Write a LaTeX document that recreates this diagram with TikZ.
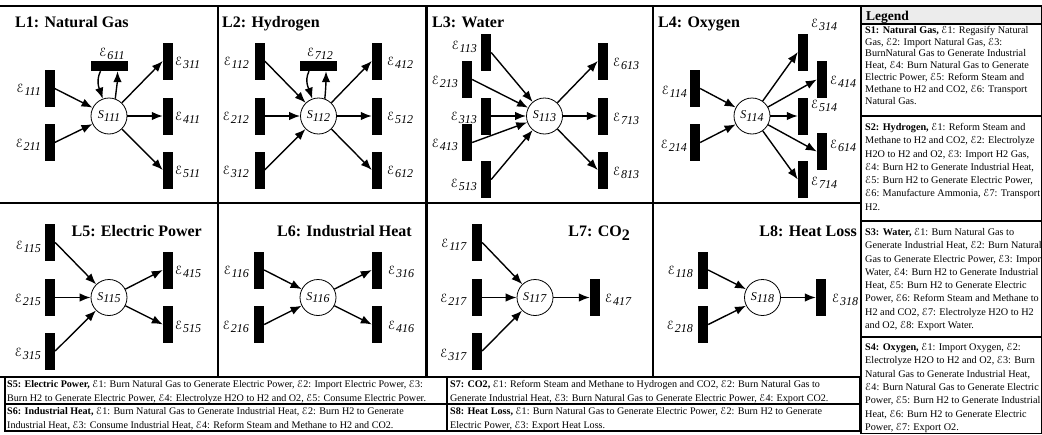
\documentclass[tikz,border=0pt]{standalone}
\usepackage{fontspec}
\setmainfont{Liberation Serif}
\usepackage[mathscr]{euscript}
\usetikzlibrary{arrows.meta}
\newcommand\Escr{\ensuremath{\mathscr{E}}}
\newcommand\El[1]{\Escr\kern0.6pt\raisebox{-3pt}{\textit{#1}}}
\newcommand\Sl[1]{\textit{S}\raisebox{-2.5pt}{\textit{#1}}}
\tikzset{
 vbar/.style={fill=black, inner sep=0pt, minimum width=10pt, minimum height=37pt},
 hbar/.style={fill=black, inner sep=0pt, minimum width=37pt, minimum height=10pt},
 snode/.style={circle, draw, line width=0.8pt, fill=white, minimum size=36pt, inner sep=0pt, font=\fontsize{12}{14}\selectfont},
 elbl/.style={inner sep=0pt, font=\fontsize{12}{14}\selectfont},
 arr/.style={line width=1.4pt, -{Latex[length=11pt,width=8.5pt]}},
 ttl/.style={inner sep=0pt, font=\fontsize{16}{18}\selectfont\bfseries},
 frame/.style={line width=2.5pt},
 ltxt/.style={inner sep=0pt, anchor=north west, align=left},
 btxt/.style={inner sep=0pt, anchor=north west, align=left, font=\fontsize{10.1}{13.5}\selectfont},
}
\begin{document}
\begin{tikzpicture}[x=1pt,y=-1pt]
\useasboundingbox (0,0) rectangle (1042,434);
% ---------- frames
\draw[frame] (0,6) -- (1042,6);
\draw[frame] (0,203) -- (861,203);
\draw[frame] (0,377) -- (861,377);
\draw[frame] (218,6) -- (218,377);
\draw[frame] (426.5,6) -- (426.5,377);
\draw[frame] (653,6) -- (653,377);
% ---------- L1
\node[ttl, anchor=base west] (t1) at (15,27) {L1: Natural Gas};
\node[snode] (s111) at (109,116) {\Sl{111}};
\node[vbar] (e111) at (49.5,88.5) {};
\node[vbar] (e211) at (49.5,142.5) {};
\node[vbar] (e311) at (168,61) {};
\node[vbar] (e411) at (168,116) {};
\node[vbar] (e511) at (168,170) {};
\node[hbar] (e611) at (109.5,66) {};
\node[elbl, anchor=east] (l111) at (41,90) {\El{111}};
\node[elbl, anchor=east] (l211) at (41,145) {\El{211}};
\node[elbl, anchor=west] (l311) at (175,63) {\El{311}};
\node[elbl, anchor=west] (l411) at (175,118) {\El{411}};
\node[elbl, anchor=west] (l511) at (175,172) {\El{511}};
\node[elbl, anchor=south] (l611) at (112,60) {\El{611}};
\draw[arr] (e111.east) -- (s111);
\draw[arr] (e211.east) -- (s111);
\draw[arr] (s111) -- (e311.west);
\draw[arr] (s111) -- (e411.west);
\draw[arr] (s111) -- (e511.west);
\draw[arr] ([xshift=-9pt]e611.south) .. controls +(-5,10) and +(-3,-9) .. (s111.110);
\draw[arr] (s111.70) .. controls +(1,-9) and +(0,9) .. ([xshift=8pt]e611.south);
% ---------- L2
\node[ttl, anchor=base west] (t2) at (222,27) {L2: Hydrogen};
\node[snode] (s112) at (318.5,116) {\Sl{112}};
\node[vbar] (e112) at (259.5,61) {};
\node[vbar] (e212) at (259.5,116) {};
\node[vbar] (e312) at (259.5,170) {};
\node[vbar] (e412) at (377,61) {};
\node[vbar] (e512) at (377,116) {};
\node[vbar] (e612) at (377,170) {};
\node[hbar] (e712) at (318,66) {};
\node[elbl, anchor=east] (l112) at (249,63) {\El{112}};
\node[elbl, anchor=east] (l212) at (249,118) {\El{212}};
\node[elbl, anchor=east] (l312) at (249,172) {\El{312}};
\node[elbl, anchor=west] (l412) at (387,63) {\El{412}};
\node[elbl, anchor=west] (l512) at (387,118) {\El{512}};
\node[elbl, anchor=west] (l612) at (387,172) {\El{612}};
\node[elbl, anchor=south] (l712) at (320,60) {\El{712}};
\draw[arr] (e112.east) -- (s112);
\draw[arr] (e212.east) -- (s112);
\draw[arr] (e312.east) -- (s112);
\draw[arr] (s112) -- (e412.west);
\draw[arr] (s112) -- (e512.west);
\draw[arr] (s112) -- (e612.west);
\draw[arr] ([xshift=-9pt]e712.south) .. controls +(-5,10) and +(-3,-9) .. (s112.110);
\draw[arr] (s112.70) .. controls +(1,-9) and +(0,9) .. ([xshift=8pt]e712.south);
% ---------- L3
\node[ttl, anchor=base west] (t3) at (432,27) {L3: Water};
\node[snode] (s113) at (544.5,116) {\Sl{113}};
\node[vbar] (e113) at (486,52.5) {};
\node[vbar] (e213) at (467,79.5) {};
\node[vbar] (e313) at (486,116) {};
\node[vbar] (e413) at (467,142.5) {};
\node[vbar] (e513) at (486,179.5) {};
\node[vbar] (e613) at (603,61) {};
\node[vbar] (e713) at (603,116) {};
\node[vbar] (e813) at (603,170) {};
\node[elbl, anchor=east] (l113) at (477,47) {\El{113}};
\node[elbl, anchor=east] (l213) at (458,82) {\El{213}};
\node[elbl, anchor=east] (l313) at (477,118) {\El{313}};
\node[elbl, anchor=east] (l413) at (458,145) {\El{413}};
\node[elbl, anchor=east] (l513) at (477,185) {\El{513}};
\node[elbl, anchor=west] (l613) at (613,64) {\El{613}};
\node[elbl, anchor=west] (l713) at (613,119) {\El{713}};
\node[elbl, anchor=west] (l813) at (613,173) {\El{813}};
\draw[arr] (e113.east) -- (s113);
\draw[arr] (e213.east) -- (s113);
\draw[arr] (e313.east) -- (s113);
\draw[arr] (e413.east) -- (s113);
\draw[arr] (e513.east) -- (s113);
\draw[arr] (s113) -- (e613.west);
\draw[arr] (s113) -- (e713.west);
\draw[arr] (s113) -- (e813.west);
% ---------- L4
\node[ttl, anchor=base west] (t4) at (658,27) {L4: Oxygen};
\node[snode] (s114) at (752,116) {\Sl{114}};
\node[vbar] (e114) at (695,88.5) {};
\node[vbar] (e214) at (695,142.5) {};
\node[vbar] (e314) at (803,52) {};
\node[vbar] (e414) at (822,79.5) {};
\node[vbar] (e514) at (803,116) {};
\node[vbar] (e614) at (822,151.5) {};
\node[vbar] (e714) at (803,179.5) {};
\node[elbl, anchor=east] (l114) at (687,92) {\El{114}};
\node[elbl, anchor=east] (l214) at (687,146) {\El{214}};
\node[elbl, anchor=west] (l314) at (811,25) {\El{314}};
\node[elbl, anchor=west] (l414) at (830,82) {\El{414}};
\node[elbl, anchor=west] (l514) at (811,106) {\El{514}};
\node[elbl, anchor=west] (l614) at (830,146) {\El{614}};
\node[elbl, anchor=west] (l714) at (811,183) {\El{714}};
\draw[arr] (e114.east) -- (s114);
\draw[arr] (e214.east) -- (s114);
\draw[arr] (s114) -- (e314.west);
\draw[arr] (s114) -- (e414.west);
\draw[arr] (s114) -- (e514.west);
\draw[arr] (s114) -- (e614.west);
\draw[arr] (s114) -- (e714.west);
% ---------- L5
\node[ttl, anchor=base east] (t5) at (202,236) {L5: Electric Power};
\node[snode] (s115) at (109,297.5) {\Sl{115}};
\node[vbar] (e115) at (50,242.5) {};
\node[vbar] (e215) at (50,297.5) {};
\node[vbar] (e315) at (50,351) {};
\node[vbar] (e415) at (168,270) {};
\node[vbar] (e515) at (168,324.5) {};
\node[elbl, anchor=east] (l115) at (41,247) {\El{115}};
\node[elbl, anchor=east] (l215) at (41,300) {\El{215}};
\node[elbl, anchor=east] (l315) at (41,354) {\El{315}};
\node[elbl, anchor=west] (l415) at (175,272) {\El{415}};
\node[elbl, anchor=west] (l515) at (175,327) {\El{515}};
\draw[arr] (e115.east) -- (s115);
\draw[arr] (e215.east) -- (s115);
\draw[arr] (e315.east) -- (s115);
\draw[arr] (s115) -- (e415.west);
\draw[arr] (s115) -- (e515.west);
% ---------- L6
\node[ttl, anchor=base east] (t6) at (412,236) {L6: Industrial Heat};
\node[snode] (s116) at (318,297.5) {\Sl{116}};
\node[vbar] (e116) at (259,270) {};
\node[vbar] (e216) at (259,324.5) {};
\node[vbar] (e316) at (377,270) {};
\node[vbar] (e416) at (377,324.5) {};
\node[elbl, anchor=east] (l116) at (249,272) {\El{116}};
\node[elbl, anchor=east] (l216) at (249,327) {\El{216}};
\node[elbl, anchor=west] (l316) at (388,272) {\El{316}};
\node[elbl, anchor=west] (l416) at (388,327) {\El{416}};
\draw[arr] (e116.east) -- (s116);
\draw[arr] (e216.east) -- (s116);
\draw[arr] (s116) -- (e316.west);
\draw[arr] (s116) -- (e416.west);
% ---------- L7
\node[ttl, anchor=base east] (t7) at (630,236) {L7: CO\raisebox{-4pt}{2}};
\node[snode] (s117) at (535,297.5) {\Sl{117}};
\node[vbar] (e117) at (477,242.5) {};
\node[vbar] (e217) at (477,297.5) {};
\node[vbar] (e317) at (477,351) {};
\node[vbar] (e417) at (595,297.5) {};
\node[elbl, anchor=east] (l117) at (467,245) {\El{117}};
\node[elbl, anchor=east] (l217) at (467,300) {\El{217}};
\node[elbl, anchor=east] (l317) at (467,355) {\El{317}};
\node[elbl, anchor=west] (l417) at (605,300) {\El{417}};
\draw[arr] (e117.east) -- (s117);
\draw[arr] (e217.east) -- (s117);
\draw[arr] (e317.east) -- (s117);
\draw[arr] (s117) -- (e417.west);
% ---------- L8
\node[ttl, anchor=base east] (t8) at (857,236) {L8: Heat Loss};
\node[snode] (s118) at (762.5,297.5) {\Sl{118}};
\node[vbar] (e118) at (703,270) {};
\node[vbar] (e218) at (703,324.5) {};
\node[vbar] (e318) at (821,297.5) {};
\node[elbl, anchor=east] (l118) at (693,272) {\El{118}};
\node[elbl, anchor=east] (l218) at (693,327) {\El{218}};
\node[elbl, anchor=west] (l318) at (832,300) {\El{318}};
\draw[arr] (e118.east) -- (s118);
\draw[arr] (e218.east) -- (s118);
\draw[arr] (s118) -- (e318.west);
% ---------- bottom boxes
\draw[line width=1.5pt] (5,377) rectangle (447,431);
\draw[line width=1.5pt] (447,377) rectangle (860,431);
\draw[line width=2pt] (5,404) -- (860,404);
\node[btxt] (d5) at (7,378) {\strut\textbf{S5: Electric Power,} \Escr1: Burn Natural Gas to Generate Electric Power, \Escr2: Import Electric Power, \Escr3:\\Burn H2 to Generate Electric Power, \Escr4: Electrolyze H2O to H2 and O2, \Escr5: Consume Electric Power.};
\node[btxt] (d6) at (7,405) {\strut\textbf{S6: Industrial Heat,} \Escr1: Burn Natural Gas to Generate Industrial Heat, \Escr2: Burn H2 to Generate\\Industrial Heat, \Escr3: Consume Industrial Heat, \Escr4: Reform Steam and Methane to H2 and CO2.};
\node[btxt] (d7) at (450,378) {\strut\textbf{S7: CO2,} \Escr1: Reform Steam and Methane to Hydrogen and CO2, \Escr2: Burn Natural Gas to\\Generate Industrial Heat, \Escr3: Burn Natural Gas to Generate Electric Power, \Escr4: Export CO2.};
\node[btxt] (d8) at (450,405) {\strut\textbf{S8: Heat Loss,} \Escr1: Burn Natural Gas to Generate Electric Power, \Escr2: Burn H2 to Generate\\Electric Power, \Escr3: Export Heat Loss.};
% ---------- legend
\fill[gray!15] (861,7) rectangle (1041,24);
\draw[line width=0.6pt] (1041,6) -- (1041,433) -- (861,433);
\draw[line width=1.5pt] (861,24) -- (1041,24);
\draw[line width=2pt] (861,116) -- (1041,116);
\draw[line width=2pt] (861,221) -- (1041,221);
\draw[line width=2pt] (861,337) -- (1041,337);
\draw[frame] (861,6) -- (861,434);
\node[inner sep=0pt, anchor=base west, font=\fontsize{13.5}{15}\selectfont\bfseries] (lg) at (866,20.5) {Legend};
\node[ltxt, font=\fontsize{10.2}{11.8}\selectfont] (g1) at (865,24.9) {\strut\textbf{S1: Natural Gas,} \Escr1: Regasify Natural\\Gas, \Escr2: Import Natural Gas, \Escr3:\\BurnNatural Gas to Generate Industrial\\Heat, \Escr4: Burn Natural Gas to Generate\\Electric Power, \Escr5: Reform Steam and\\Methane to H2 and CO2, \Escr6: Transport\\Natural Gas.};
\node[ltxt, font=\fontsize{10.2}{13.3}\selectfont] (g2) at (865,120.9) {\strut\textbf{S2: Hydrogen,} \Escr1: Reform Steam and\\Methane to H2 and CO2, \Escr2: Electrolyze\\H2O to H2 and O2, \Escr3: Import H2 Gas,\\\Escr4: Burn H2 to Generate Industrial Heat,\\\Escr5: Burn H2 to Generate Electric Power,\\\Escr6: Manufacture Ammonia, \Escr7: Transport\\H2.};
\node[ltxt, font=\fontsize{10.2}{13.3}\selectfont] (g3) at (865,225.9) {\strut\textbf{S3: Water,} \Escr1: Burn Natural Gas to\\Generate Industrial Heat, \Escr2: Burn Natural\\Gas to Generate Electric Power, \Escr3: Impor\\Water, \Escr4: Burn H2 to Generate Industrial\\Heat, \Escr5: Burn H2 to Generate Electric\\Power, \Escr6: Reform Steam and Methane to\\H2 and CO2, \Escr7: Electrolyze H2O to H2\\and O2, \Escr8: Export Water.};
\node[ltxt, font=\fontsize{10.2}{13.4}\selectfont] (g4) at (865,340.8) {\strut\textbf{S4: Oxygen,} \Escr1: Import Oxygen, \Escr2:\\Electrolyze H2O to H2 and O2, \Escr3: Burn\\Natural Gas to Generate Industrial Heat,\\\Escr4: Burn Natural Gas to Generate Electric\\Power, \Escr5: Burn H2 to Generate Industrial\\Heat, \Escr6: Burn H2 to Generate Electric\\Power, \Escr7: Export O2.};
\end{tikzpicture}
\end{document}
